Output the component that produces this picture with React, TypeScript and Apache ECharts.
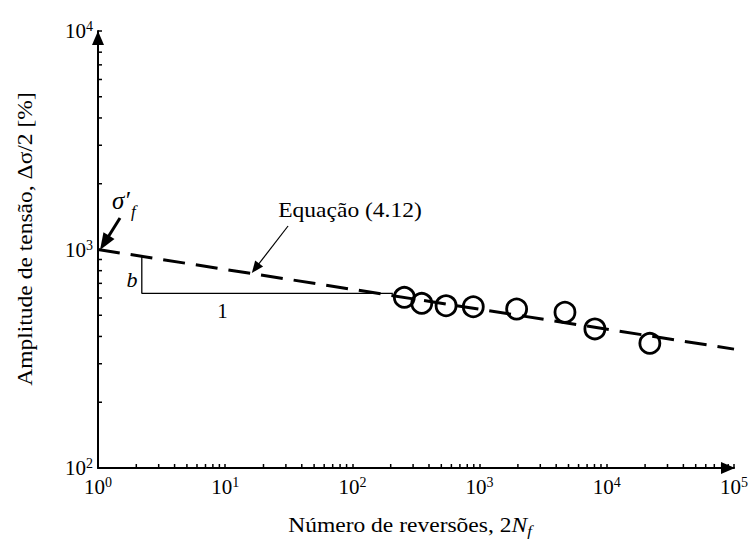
import React, { useEffect, useRef } from 'react';
import * as echarts from 'echarts';

// Experimental points (reversals 2Nf, stress amplitude)
const reversals = [256, 351, 545, 892, 1955, 4690, 8060, 21800];
const amplitudes = [604, 567, 553, 547, 534, 516, 433, 372];

// Basquin fit line (Equação 4.12)
const fitX = [1, 100000];
const fitY = [1000, 350];

// Slope triangle (b : 1)
const slopeX = [2.21, 2.21, 208];
const slopeY = [930, 630, 630];

// Annotation arrows (data space): [fromX, fromY, toX, toY]
const sigmaArrow = [1.489, 1394, 1.125, 1073];
const eqArrow = [31.2, 1281, 17.3, 821];

// Axis extents
const xRange = [1, 100000];
const yRange = [100, 10000];

// Minor log ticks
const xMinor: number[] = [];
for (let d = 0; d < 5; d++) for (let k = 2; k <= 9; k++) xMinor.push(k * Math.pow(10, d));
const yMinor: number[] = [];
for (let d = 2; d < 4; d++) for (let k = 2; k <= 9; k++) yMinor.push(k * Math.pow(10, d));

const SERIF = 'Liberation Serif';

function makeLabel(margin: number) {
  return {
    margin,
    color: '#000',
    fontSize: 21,
    fontFamily: SERIF,
    formatter: (v: number) => '{base|10}{sup|' + Math.round(Math.log10(v)) + '}',
    rich: {
      base: { color: '#000', fontSize: 21, fontFamily: SERIF },
      sup: { color: '#000', fontSize: 14, fontFamily: SERIF, padding: [0, 0, 9, 0] },
    },
  };
}

export default function App() {
  const ref = useRef<HTMLDivElement>(null);
  useEffect(() => {
    const chart = echarts.init(ref.current!, null, { renderer: 'svg' });
    const tick = { show: true, inside: true, length: 4, lineStyle: { color: '#000', width: 1.5 } };
    const arrowLine = (a: number[], w: number, size: number[]) => ({
      type: 'line',
      data: [],
      silent: true,
      markLine: {
        silent: true,
        animation: false,
        symbol: ['none', 'triangle'],
        label: { show: false },
        emphasis: { disabled: true },
        lineStyle: { color: '#000', width: w, type: 'solid' },
        data: [[
          { coord: [a[0], a[1]], symbol: 'none' },
          { coord: [a[2], a[3]], symbol: 'triangle', symbolSize: size },
        ]],
      },
    });
    chart.setOption({
      animation: false,
      backgroundColor: '#fff',
      grid: { left: 98, right: 21, top: 31, bottom: 79 },
      xAxis: {
        type: 'log',
        min: xRange[0],
        max: xRange[1],
        splitLine: { show: false },
        axisTick: tick,
        axisLine: {
          show: true,
          lineStyle: { color: '#000', width: 2 },
          symbol: ['none', 'triangle'],
          symbolSize: [12, 14],
          symbolOffset: [0, -6],
        },
        axisLabel: makeLabel(7),
      },
      yAxis: {
        type: 'log',
        min: yRange[0],
        max: yRange[1],
        splitLine: { show: false },
        axisTick: tick,
        axisLine: {
          show: true,
          lineStyle: { color: '#000', width: 2 },
          symbol: ['none', 'triangle'],
          symbolSize: [12, 14],
          symbolOffset: [0, -7],
        },
        axisLabel: makeLabel(5),
      },
      series: [
        {
          type: 'line',
          data: fitX.map((x, i) => [x, fitY[i]]),
          symbol: 'none',
          silent: true,
          lineStyle: { color: '#000', width: 3, type: [22, 11] },
          z: 3,
        },
        {
          type: 'line',
          data: slopeX.map((x, i) => [x, slopeY[i]]),
          symbol: 'none',
          silent: true,
          lineStyle: { color: '#000', width: 1.3 },
          z: 3,
        },
        {
          type: 'scatter',
          data: reversals.map((x, i) => [x, amplitudes[i]]),
          symbol: 'circle',
          symbolSize: 20,
          silent: true,
          itemStyle: { color: 'rgba(0,0,0,0)', borderColor: '#000', borderWidth: 2.8, opacity: 1 },
          z: 4,
        },
        arrowLine(sigmaArrow, 3, [13, 17]),
        arrowLine(eqArrow, 1.2, [10, 12]),
        {
          type: 'custom',
          silent: true,
          clip: false,
          data: xMinor.map((v) => [v, yRange[0]]),
          renderItem: (_p: any, api: any) => {
            const c = api.coord([api.value(0), api.value(1)]);
            return { type: 'line', shape: { x1: c[0], y1: c[1], x2: c[0], y2: c[1] - 4 }, style: { stroke: '#000', lineWidth: 1.5 } };
          },
          z: 5,
        },
        {
          type: 'custom',
          silent: true,
          clip: false,
          data: yMinor.map((v) => [xRange[0], v]),
          renderItem: (_p: any, api: any) => {
            const c = api.coord([api.value(0), api.value(1)]);
            return { type: 'line', shape: { x1: c[0], y1: c[1], x2: c[0] + 4, y2: c[1] }, style: { stroke: '#000', lineWidth: 1.5 } };
          },
          z: 5,
        },
      ],
      graphic: [
        {
          type: 'text', x: 410, y: 525, scaleX: 1.12, silent: true,
          style: {
            text: '{t|Número de reversões, 2}{i|N}{s|f}',
            align: 'center', verticalAlign: 'middle',
            rich: {
              t: { fontFamily: SERIF, fontSize: 21, fill: '#000', lineHeight: 26 },
              i: { fontFamily: SERIF, fontSize: 21, fontStyle: 'italic', fill: '#000', lineHeight: 26 },
              s: { fontFamily: SERIF, fontSize: 15, fontStyle: 'italic', fill: '#000', lineHeight: 14, verticalAlign: 'bottom' },
            },
          },
        },
        {
          type: 'text', x: 25, y: 239, rotation: Math.PI / 2, scaleX: 1.12, silent: true,
          style: { text: 'Amplitude de tensão, Δσ/2 [%]', fontFamily: SERIF, fontSize: 21, fill: '#000', align: 'center', verticalAlign: 'middle' },
        },
        {
          type: 'text', x: 350, y: 210, scaleX: 1.12, silent: true,
          style: { text: 'Equação (4.12)', fontFamily: SERIF, fontSize: 21, fill: '#000', align: 'center', verticalAlign: 'middle' },
        },
        {
          type: 'text', x: 112, y: 200, silent: true,
          style: { text: 'σ′', fontFamily: SERIF, fontSize: 25, fontStyle: 'italic', fill: '#000', align: 'left', verticalAlign: 'middle' },
        },
        {
          type: 'text', x: 131, y: 211, silent: true,
          style: { text: 'f', fontFamily: SERIF, fontSize: 17, fontStyle: 'italic', fill: '#000', align: 'left', verticalAlign: 'middle' },
        },
        {
          type: 'text', x: 132, y: 279, silent: true,
          style: { text: 'b', fontFamily: SERIF, fontSize: 22, fontStyle: 'italic', fill: '#000', align: 'center', verticalAlign: 'middle' },
        },
        {
          type: 'text', x: 222.5, y: 310.5, silent: true,
          style: { text: '1', fontFamily: SERIF, fontSize: 21, fill: '#000', align: 'center', verticalAlign: 'middle' },
        },
      ],
    });
    return () => chart.dispose();
  }, []);
  return <div ref={ref} style={{ position: 'fixed', left: 0, top: 0, width: 755, height: 547, background: '#fff' }} />;
}
